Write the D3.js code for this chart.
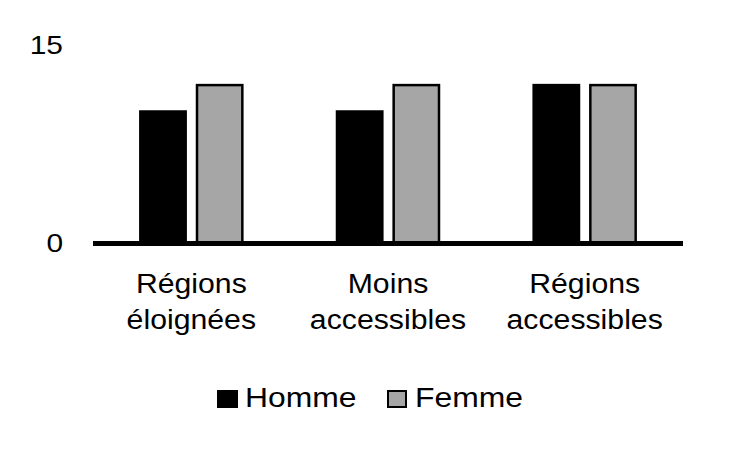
<!DOCTYPE html>
<html><head><meta charset="utf-8">
<script src="https://cdn.jsdelivr.net/npm/d3@7"></script>
<style>body{margin:0;background:#fff}svg{display:block}text{font-family:"Liberation Sans",Arial,sans-serif;fill:#000}</style>
</head><body><svg id="c" width="731" height="455"></svg>
<script>
const categories = [["Régions","éloignées"],["Moins","accessibles"],["Régions","accessibles"]];
const series = ["Homme","Femme"];
const homme = [10, 10, 12];
const femme = [12, 12, 12];
const yTicks = [0, 15];
const colors = ["#000000","#a6a6a6"];

const svg = d3.select("#c");
const x0 = d3.scaleBand().domain(d3.range(categories.length)).range([93, 683]).paddingInner(0).paddingOuter(0);
const x1 = d3.scaleBand().domain(series).range([x0.bandwidth()/2 - 51, x0.bandwidth()/2 + 51]).paddingInner(0.2).paddingOuter(0);
const y = d3.scaleLinear().domain([0, 15]).range([243.5, 45.5]);

const data = [homme, femme];
categories.forEach((c, i) => {
  const g = svg.append("g").attr("transform", `translate(${x0(i)},0)`);
  series.forEach((s, j) => {
    g.append("rect")
      .attr("x", x1(s)).attr("width", x1.bandwidth())
      .attr("y", y(data[j][i])).attr("height", y(0) - y(data[j][i]))
      .attr("fill", colors[j]).attr("stroke", "#000").attr("stroke-width", 2.5);
  });
});

// axis line
svg.append("line").attr("x1", 93).attr("x2", 683).attr("y1", y(0)).attr("y2", y(0))
  .attr("stroke", "#000").attr("stroke-width", 5);

function stext(x, yy, str, size, sx, anchor) {
  return svg.append("text")
    .attr("transform", `translate(${x},${yy}) scale(${sx},1)`)
    .attr("text-anchor", anchor).attr("font-size", size).text(str);
}

// y tick labels
yTicks.forEach(d => stext(63, y(d) + 8, d, 26, 1.15, "end"));

// category labels
categories.forEach((c, i) => {
  const cx = x0(i) + x0.bandwidth()/2;
  c.forEach((line, k) => stext(cx, 292.5 + k * 36, line, 27, 1.12, "middle"));
});

// legend
const leg = [{x:217, w:21, tx:245}, {x:387, w:20, tx:415}];
series.forEach((s, j) => {
  svg.append("rect").attr("x", leg[j].x + 1).attr("y", 391).attr("width", leg[j].w - 2).attr("height", 16)
    .attr("fill", colors[j]).attr("stroke", "#000").attr("stroke-width", 2);
  stext(leg[j].tx, 406.5, s, 27, 1.18, "start");
});
</script></body></html>
